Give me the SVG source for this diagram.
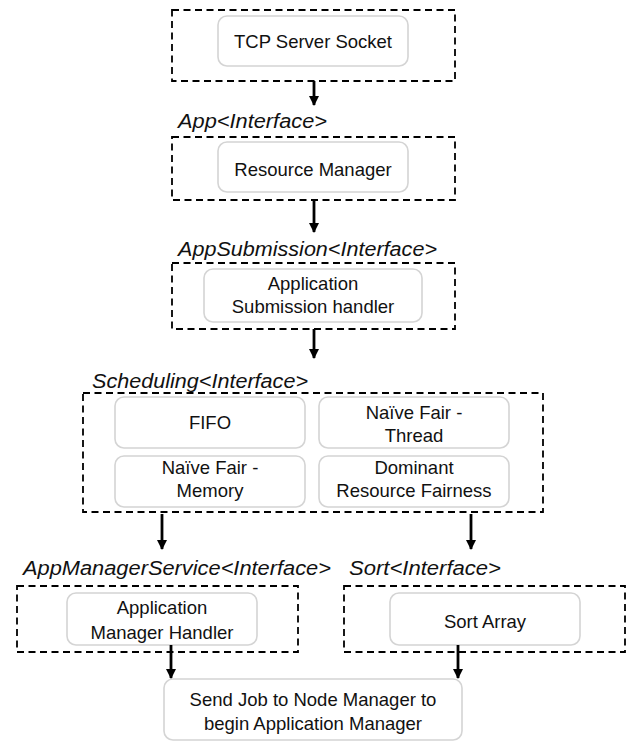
<svg xmlns="http://www.w3.org/2000/svg" width="628" height="742" viewBox="0 0 628 742">
<defs>
<marker id="ah" viewBox="0 0 10 10" refX="9" refY="5" markerWidth="3.6" markerHeight="3.6" orient="auto" markerUnits="strokeWidth">
<path d="M0,0 L10,5 L0,10 Z" fill="#000"/>
</marker>
<style>
.grp{fill:none;stroke:#000;stroke-width:1.8;stroke-dasharray:7 4.5}
.box{fill:#fff;stroke:#d4d4d4;stroke-width:1.6}
.t{font-family:"Liberation Sans",Arial,sans-serif;font-size:18.5px;fill:#111;text-anchor:middle}
.lbl{font-family:"Liberation Sans",Arial,sans-serif;font-size:20px;font-style:italic;fill:#111}
.arr{fill:none;stroke:#000;stroke-width:2.8;marker-end:url(#ah)}
</style>
</defs>
<rect width="628" height="742" fill="#fff"/>

<g id="tcp-group">
<rect class="grp" x="172" y="10" width="283" height="71"/>
</g>
<g id="tcp">
<rect class="box" x="218" y="16" width="190" height="50" rx="9"/>
<text class="t" x="313" y="48">TCP Server Socket</text>
</g>

<g id="app-group">
<text class="lbl" x="178" y="128" textLength="149" lengthAdjust="spacingAndGlyphs">App&lt;Interface&gt;</text>
<rect class="grp" x="172" y="137" width="283" height="63"/>
</g>
<g id="resource-manager">
<rect class="box" x="218" y="142" width="190" height="50" rx="9"/>
<text class="t" x="313" y="176">Resource Manager</text>
</g>

<g id="appsubmission-group">
<text class="lbl" x="178" y="256" textLength="259" lengthAdjust="spacingAndGlyphs">AppSubmission&lt;Interface&gt;</text>
<rect class="grp" x="172" y="263" width="283" height="66"/>
</g>
<g id="submission-handler">
<rect class="box" x="204" y="269" width="218" height="53" rx="9"/>
<text class="t" x="313" y="290">Application</text>
<text class="t" x="313" y="313">Submission handler</text>
</g>

<g id="scheduling-group">
<text class="lbl" x="92" y="388" textLength="216" lengthAdjust="spacingAndGlyphs">Scheduling&lt;Interface&gt;</text>
<rect class="grp" x="83" y="393" width="460" height="119"/>
</g>
<g id="fifo">
<rect class="box" x="115" y="397" width="190" height="51" rx="9"/>
<text class="t" x="210" y="429">FIFO</text>
</g>
<g id="naive-thread">
<rect class="box" x="319" y="397" width="190" height="51" rx="9"/>
<text class="t" x="414" y="419">Naïve Fair -</text>
<text class="t" x="414" y="442">Thread</text>
</g>
<g id="naive-memory">
<rect class="box" x="115" y="456" width="190" height="51" rx="9"/>
<text class="t" x="210" y="474">Naïve Fair -</text>
<text class="t" x="210" y="497">Memory</text>
</g>
<g id="drf">
<rect class="box" x="319" y="456" width="190" height="51" rx="9"/>
<text class="t" x="414" y="474">Dominant</text>
<text class="t" x="414" y="497">Resource Fairness</text>
</g>

<g id="appmanagerservice-group">
<text class="lbl" x="23" y="575" textLength="308" lengthAdjust="spacingAndGlyphs">AppManagerService&lt;Interface&gt;</text>
<rect class="grp" x="17" y="586" width="281" height="66"/>
</g>
<g id="app-manager-handler">
<rect class="box" x="67" y="593" width="190" height="52" rx="9"/>
<text class="t" x="162" y="614">Application</text>
<text class="t" x="162" y="639">Manager Handler</text>
</g>

<g id="sort-group">
<text class="lbl" x="349" y="575" textLength="152" lengthAdjust="spacingAndGlyphs">Sort&lt;Interface&gt;</text>
<rect class="grp" x="344" y="586" width="281" height="66"/>
</g>
<g id="sort-array">
<rect class="box" x="390" y="593" width="190" height="52" rx="9"/>
<text class="t" x="485" y="628">Sort Array</text>
</g>

<g id="send-job">
<rect class="box" x="164" y="679" width="298" height="61" rx="9"/>
<text class="t" x="313" y="706">Send Job to Node Manager to</text>
<text class="t" x="313" y="730">begin Application Manager</text>
</g>

<g id="connectors">
<line class="arr" x1="314" y1="81" x2="314" y2="105"/>
<line class="arr" x1="314" y1="200" x2="314" y2="232"/>
<line class="arr" x1="314" y1="329" x2="314" y2="358"/>
<line class="arr" x1="162" y1="514" x2="162" y2="549"/>
<line class="arr" x1="471" y1="514" x2="471" y2="549"/>
<line class="arr" x1="171" y1="645" x2="171" y2="678"/>
<line class="arr" x1="458" y1="645" x2="458" y2="678"/>
</g>
</svg>
